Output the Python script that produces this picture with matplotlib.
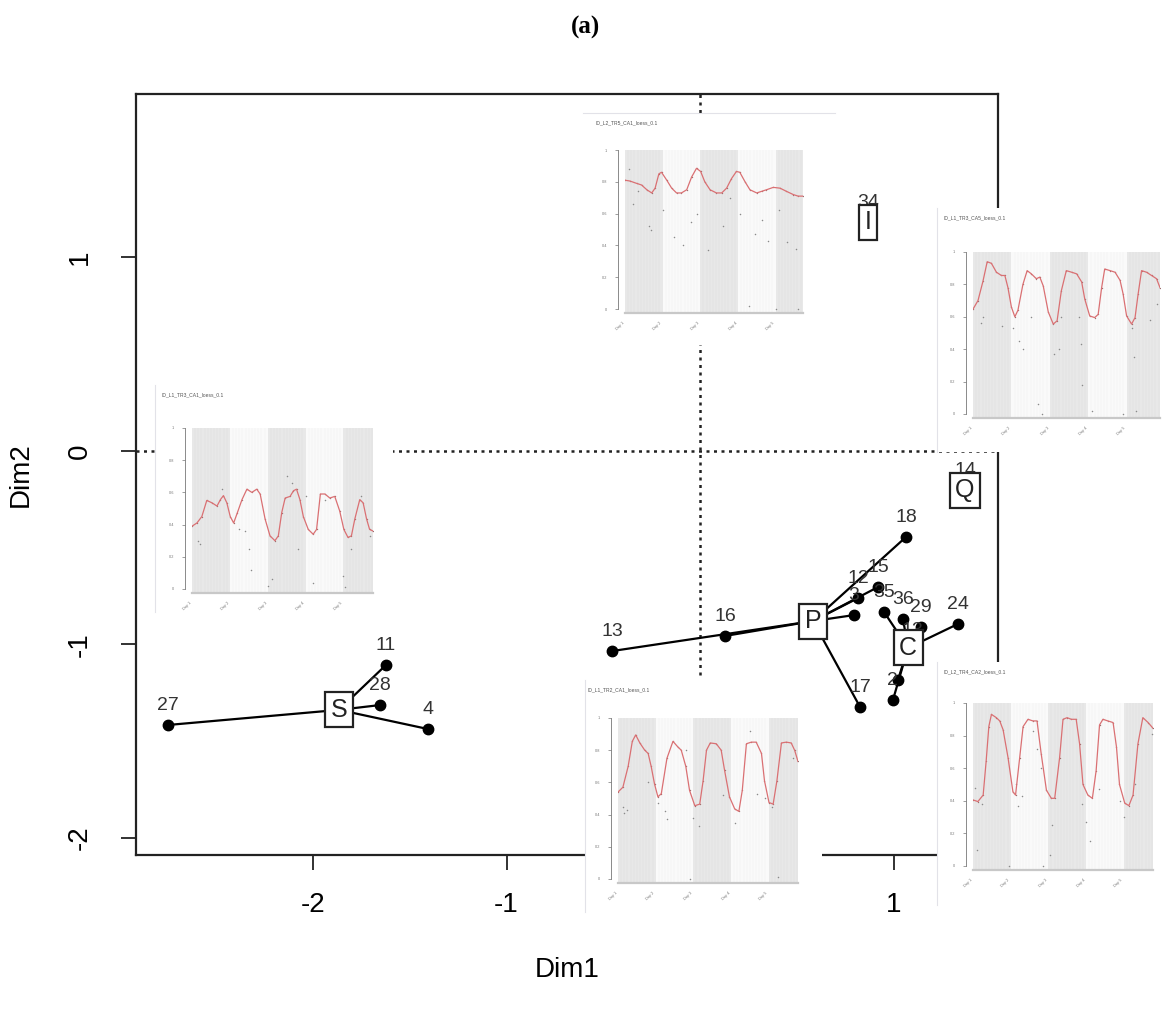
import matplotlib
matplotlib.use('Agg')
import matplotlib.pyplot as plt

plt.rcParams['font.family'] = ['Liberation Sans', 'DejaVu Sans']

W, H = 1170, 1010

# ---- main MCA-style map: centroids and members (Dim1, Dim2) ----
groups = ['S', 'P', 'C', 'Q', 'I']
group_xy = {'S': (-1.866, -1.338), 'P': (0.584, -0.879), 'C': (1.075, -1.018),
            'Q': (1.370, -0.202), 'I': (0.868, 1.183)}
member_labels = {
    'S': ['27', '11', '28', '4'],
    'P': ['13', '16', '18', '15', '12', '3', '17'],
    'C': ['35', '36', '29', '24', '13', '3', '2'],
    'Q': ['14'],
    'I': ['34'],
}
member_x = {
    'S': [-2.749, -1.623, -1.654, -1.406],
    'P': [-0.455, 0.129, 1.065, 0.920, 0.817, 0.796, 0.827],
    'C': [0.951, 1.049, 1.142, 1.333, 1.096, 1.023, 0.997],
    'Q': [1.370],
    'I': [0.868],
}
member_y = {
    'S': [-1.416, -1.106, -1.313, -1.437],
    'P': [-1.034, -0.956, -0.444, -0.703, -0.760, -0.848, -1.323],
    'C': [-0.832, -0.868, -0.910, -0.894, -1.028, -1.183, -1.287],
    'Q': [-0.202],
    'I': [1.183],
}

# ---- inset time series (days, smoothed value) ----
ins_titles = ['ID_L2_TR5_CA1_loess_0.1', 'ID_L1_TR3_CA5_loess_0.1', 'ID_L1_TR3_CA1_loess_0.1',
              'ID_L1_TR2_CA1_loess_0.1', 'ID_L2_TR4_CA2_loess_0.1']
ins_span = [4.73, 4.87, 4.78, 4.78, 4.78]
ins_t = [
    [0, 0.13, 0.31, 0.44, 0.58, 0.71, 0.80, 0.90, 0.97, 1.11, 1.24, 1.37, 1.50, 1.64, 1.77, 1.90, 2.01, 2.12,
     2.26, 2.43, 2.57, 2.70, 2.83, 2.96, 3.05, 3.19, 3.32, 3.50, 3.63, 3.76, 3.94, 4.12, 4.29, 4.47, 4.60, 4.73],
    [0, 0.13, 0.26, 0.37, 0.48, 0.61, 0.74, 0.83, 0.91, 1.0, 1.09, 1.17, 1.30, 1.41, 1.52, 1.65, 1.74, 1.83,
     1.96, 2.09, 2.19, 2.30, 2.43, 2.57, 2.70, 2.83, 2.91, 3.04, 3.17, 3.26, 3.35, 3.43, 3.57, 3.70, 3.83, 3.91,
     4.0, 4.13, 4.22, 4.30, 4.39, 4.52, 4.65, 4.78, 4.87],
    [0, 0.13, 0.26, 0.39, 0.53, 0.66, 0.75, 0.83, 0.92, 1.01, 1.10, 1.20, 1.32, 1.45, 1.58, 1.71, 1.80, 1.93,
     2.06, 2.19, 2.28, 2.37, 2.46, 2.59, 2.68, 2.76, 2.85, 2.94, 3.07, 3.20, 3.29, 3.39, 3.51, 3.64, 3.77, 3.90,
     4.01, 4.12, 4.21, 4.30, 4.43, 4.52, 4.61, 4.69, 4.78],
    [0, 0.13, 0.27, 0.38, 0.47, 0.58, 0.71, 0.80, 0.88, 0.97, 1.06, 1.15, 1.30, 1.46, 1.59, 1.68, 1.80, 1.90,
     2.04, 2.17, 2.26, 2.35, 2.45, 2.61, 2.74, 2.83, 2.96, 3.10, 3.21, 3.30, 3.41, 3.54, 3.67, 3.81, 3.89, 4.01,
     4.12, 4.22, 4.34, 4.47, 4.60, 4.69, 4.78],
    [0, 0.13, 0.27, 0.35, 0.42, 0.49, 0.62, 0.71, 0.80, 0.93, 1.06, 1.13, 1.24, 1.33, 1.46, 1.59, 1.70, 1.81,
     1.95, 2.08, 2.17, 2.30, 2.39, 2.50, 2.61, 2.74, 2.83, 2.92, 3.05, 3.17, 3.27, 3.36, 3.45, 3.58, 3.72, 3.81,
     3.89, 4.03, 4.14, 4.25, 4.38, 4.51, 4.65, 4.78],
]
ins_v = [
    [0.81, 0.805, 0.79, 0.78, 0.75, 0.73, 0.76, 0.85, 0.86, 0.81, 0.76, 0.73, 0.73, 0.75, 0.83, 0.885, 0.865, 0.80,
     0.75, 0.73, 0.73, 0.76, 0.82, 0.865, 0.86, 0.80, 0.75, 0.73, 0.74, 0.75, 0.765, 0.76, 0.74, 0.72, 0.71, 0.71],
    [0.647, 0.70, 0.82, 0.94, 0.93, 0.875, 0.855, 0.855, 0.78, 0.66, 0.60, 0.64, 0.80, 0.885, 0.865, 0.835, 0.845,
     0.79, 0.63, 0.555, 0.575, 0.76, 0.885, 0.875, 0.865, 0.815, 0.71, 0.605, 0.595, 0.615, 0.78, 0.895, 0.885,
     0.875, 0.825, 0.74, 0.605, 0.555, 0.595, 0.74, 0.885, 0.875, 0.855, 0.835, 0.78],
    [0.39, 0.41, 0.45, 0.55, 0.535, 0.515, 0.555, 0.58, 0.535, 0.45, 0.41, 0.475, 0.555, 0.62, 0.60, 0.62, 0.59,
     0.435, 0.33, 0.30, 0.33, 0.475, 0.565, 0.575, 0.61, 0.62, 0.555, 0.45, 0.37, 0.34, 0.37, 0.59, 0.59, 0.565,
     0.575, 0.485, 0.37, 0.32, 0.33, 0.435, 0.555, 0.535, 0.435, 0.37, 0.36],
    [0.54, 0.57, 0.70, 0.855, 0.895, 0.845, 0.80, 0.78, 0.70, 0.59, 0.51, 0.53, 0.75, 0.855, 0.82, 0.80, 0.70,
     0.55, 0.455, 0.465, 0.61, 0.80, 0.845, 0.84, 0.80, 0.675, 0.51, 0.435, 0.42, 0.55, 0.84, 0.85, 0.85, 0.78,
     0.61, 0.475, 0.465, 0.61, 0.845, 0.85, 0.845, 0.80, 0.73],
    [0.405, 0.395, 0.435, 0.645, 0.855, 0.93, 0.91, 0.89, 0.835, 0.665, 0.455, 0.435, 0.665, 0.855, 0.90, 0.89,
     0.89, 0.69, 0.465, 0.415, 0.415, 0.665, 0.90, 0.91, 0.90, 0.90, 0.75, 0.50, 0.435, 0.415, 0.585, 0.865, 0.90,
     0.89, 0.88, 0.73, 0.50, 0.385, 0.37, 0.435, 0.75, 0.91, 0.88, 0.845],
]
# scattered raw observations away from the smooth
ins_pt = [
    [0.1, 0.2, 0.35, 0.65, 0.7, 1.0, 1.3, 1.55, 1.75, 1.9, 2.2, 2.6, 2.8, 3.05, 3.3, 3.45, 3.65, 3.8, 4.0, 4.1,
     4.3, 4.55, 4.6],
    [0.2, 0.25, 0.75, 1.05, 1.2, 1.3, 1.5, 1.7, 1.8, 2.1, 2.25, 2.3, 2.75, 2.8, 2.85, 3.1, 3.9, 4.15, 4.2, 4.25,
     4.6, 4.8],
    [0.15, 0.2, 0.8, 1.25, 1.4, 1.5, 1.55, 2.0, 2.1, 2.5, 2.65, 2.8, 3.0, 3.2, 3.5, 4.0, 4.05, 4.2, 4.45, 4.7],
    [0.12, 0.17, 0.25, 0.8, 1.05, 1.25, 1.3, 1.8, 1.9, 2.0, 2.15, 2.8, 3.1, 3.5, 3.7, 3.9, 4.1, 4.25, 4.65],
    [0.05, 0.1, 0.25, 0.95, 1.15, 1.2, 1.3, 1.6, 1.7, 1.8, 1.85, 2.05, 2.1, 2.9, 3.0, 3.1, 3.35, 3.9, 4.0, 4.3,
     4.75],
]
ins_pv = [
    [0.88, 0.66, 0.74, 0.52, 0.5, 0.62, 0.45, 0.4, 0.55, 0.6, 0.37, 0.52, 0.7, 0.6, 0.02, 0.47, 0.56, 0.43, 0.0,
     0.62, 0.42, 0.38, 0.0],
    [0.56, 0.6, 0.54, 0.53, 0.45, 0.4, 0.6, 0.06, 0.0, 0.37, 0.4, 0.6, 0.6, 0.43, 0.18, 0.02, 0.0, 0.53, 0.35,
     0.02, 0.58, 0.68],
    [0.3, 0.28, 0.62, 0.37, 0.36, 0.25, 0.12, 0.02, 0.06, 0.7, 0.66, 0.25, 0.58, 0.04, 0.55, 0.08, 0.01, 0.25,
     0.58, 0.33],
    [0.45, 0.41, 0.43, 0.6, 0.47, 0.42, 0.37, 0.8, 0.0, 0.38, 0.33, 0.52, 0.35, 0.92, 0.53, 0.5, 0.45, 0.01, 0.75],
    [0.48, 0.1, 0.38, 0.0, 0.5, 0.37, 0.43, 0.83, 0.72, 0.6, 0.0, 0.07, 0.25, 0.38, 0.27, 0.15, 0.47, 0.4, 0.3,
     0.5, 0.81],
]
day_labels = ['Day 1', 'Day 2', 'Day 3', 'Day 4', 'Day 5']

# pixel boxes for the pasted insets: paper (white card) and plot area
ins_paper = [(583, 113, 835, 345), (937, 208, 1160, 452), (155, 385, 393, 612),
             (585, 680, 822, 912), (937, 662, 1160, 905)]
ins_plot = [(625, 150, 803, 313), (973, 252, 1160, 418), (192, 428, 373, 593),
            (618, 718, 798, 883), (973, 703, 1153, 870)]
ins_edge = ['top', 'left', 'left', 'left', 'left']


def rect(x0, y0, x1, y1):
    return [x0 / W, 1 - y1 / H, (x1 - x0) / W, (y1 - y0) / H]


fig = plt.figure(figsize=(W / 100, H / 100), dpi=100)

ax = fig.add_axes(rect(136, 94, 998, 855))
ax.set_xlim(-2.915, 1.54)
ax.set_ylim(-2.088, 1.845)
for s in ax.spines.values():
    s.set_linewidth(1.6)
    s.set_color('#222222')
ax.set_xticks([-2, -1, 0, 1])
ax.set_yticks([-2, -1, 0, 1])
ax.set_xticklabels(['-2', '-1', '0', '1'])
ax.set_yticklabels(['-2', '-1', '0', '1'], rotation=90, va='center')
ax.tick_params(axis='both', labelsize=20, length=11, width=1.3, color='#222222')
ax.tick_params(axis='x', pad=16)
ax.tick_params(axis='y', pad=20)
ax.set_xlabel('Dim1', fontsize=20, labelpad=28)
ax.set_ylabel('Dim2', fontsize=20, labelpad=24)

ax.axhline(0, color='#222222', lw=1.8, ls=(0, (1.2, 1.8)), zorder=1)
ax.axvline(0, color='#222222', lw=1.8, ls=(0, (1.2, 1.8)), zorder=1)

for g in groups:
    gx, gy = group_xy[g]
    for lab, mx, my in zip(member_labels[g], member_x[g], member_y[g]):
        if g not in ('Q', 'I'):
            ax.plot([gx, mx], [gy, my], color='black', lw=1.6, zorder=2)
            ax.plot(mx, my, 'o', color='black', ms=7.5, zorder=3)
        ax.annotate(lab, (mx, my), xytext=(0, 8), textcoords='offset points',
                    ha='center', va='bottom', fontsize=14, color='#333333', zorder=3)
    ax.text(gx, gy, g, ha='center', va='center', fontsize=18, color='#222222', zorder=4,
            bbox=dict(boxstyle='square,pad=0.22', fc='white', ec='#222222', lw=1.6))

# ---- insets ----
for k in range(5):
    pa = fig.add_axes(rect(*ins_paper[k]))
    pa.set_facecolor('white')
    pa.set_xticks([])
    pa.set_yticks([])
    for s in pa.spines.values():
        s.set_visible(False)
    e = ins_edge[k]
    pa.spines[e].set_visible(True)
    pa.spines[e].set_color('#e2e2e8')
    pa.spines[e].set_linewidth(0.8)
    px0, py0, px1, py1 = ins_paper[k]
    qx0, qy0, qx1, qy1 = ins_plot[k]
    pa.text((qx0 - px0 - 30) / (px1 - px0), 1 - 10 / (py1 - py0), ins_titles[k],
            transform=pa.transAxes, fontsize=3.6, color='#555555', va='center')

    ia = fig.add_axes(rect(*ins_plot[k]))
    ia.set_xlim(0, ins_span[k])
    ia.set_ylim(-0.025, 1.0)
    for b in range(5):
        ia.axvspan(b, b + 1, color='#e8e8e8' if b % 2 == 0 else '#fafafa', lw=0, zorder=0)
    for b in range(5):
        for q in range(1, 12):
            ia.axvline(b + q / 12, color='#dcdcdc' if b % 2 == 0 else '#eeeeee', lw=0.3, zorder=0.5)
    ia.scatter(ins_pt[k], ins_pv[k], s=1.2, color='#8a8a8a', lw=0, zorder=2)
    ia.scatter(ins_t[k], ins_v[k], s=1.0, color='#9a7070', lw=0, zorder=2)
    ia.plot(ins_t[k], ins_v[k], color='#da7073', lw=0.9, zorder=3)
    for s in ('top', 'right'):
        ia.spines[s].set_visible(False)
    ia.spines['bottom'].set_color('#c8c8c8')
    ia.spines['bottom'].set_linewidth(1.6)
    ia.spines['left'].set_position(('outward', 5))
    ia.spines['left'].set_bounds(0, 1)
    ia.spines['left'].set_color('#777777')
    ia.spines['left'].set_linewidth(0.6)
    ia.set_yticks([0, 0.2, 0.4, 0.6, 0.8, 1])
    ia.set_yticklabels(['0', '0.2', '0.4', '0.6', '0.8', '1'])
    ia.set_xticks([0, 1, 2, 3, 4])
    ia.set_xticklabels(day_labels, rotation=45, ha='right')
    ia.tick_params(axis='y', labelsize=2.8, length=2, width=0.5, color='#777777', labelcolor='#777777', pad=6)
    ia.tick_params(axis='x', labelsize=2.8, length=0, labelcolor='#777777', pad=6)

fig.text(0.5, 0.973, '(a)', ha='center', va='center', fontsize=18, fontweight='bold',
         family=['Liberation Serif', 'DejaVu Serif'])

fig.savefig('out.png', dpi=100)
